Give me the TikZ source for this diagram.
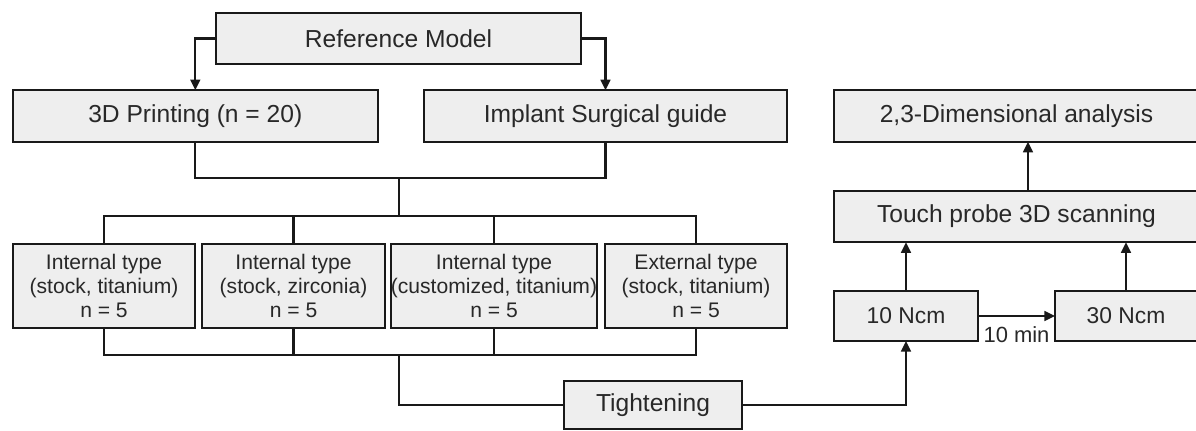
\documentclass[tikz,border=0pt]{standalone}
\usepackage{fontspec}
\setmainfont{Liberation Sans}
\usetikzlibrary{arrows.meta}
\definecolor{boxfill}{RGB}{238,238,238}
\definecolor{inkgray}{RGB}{40,40,40}

\begin{document}
\begin{tikzpicture}[x=0.02cm, y=-0.02cm,
        every node/.style={text=inkgray, outer sep=0pt},
        box/.style={draw=black!90, line width=1.4pt, fill=boxfill, minimum height=1.03cm, inner sep=0pt, font=\fontsize{14}{16}\selectfont},
        typebox/.style={box, minimum height=1.68cm, align=center, font=\fontsize{12}{13.5}\selectfont},
        ncmbox/.style={box, minimum height=1.0cm, font=\fontsize{13}{15}\selectfont},
        link/.style={line width=1.35pt, draw=black!90},
        arrow/.style={link, -{Triangle[length=6pt,width=5.5pt]}}]
        \useasboundingbox (0,0) rectangle (1196,431);
        \clip (0,0) rectangle (1196,431);

        \node[box, minimum width=7.3cm](ref) at (398.5, 38.5) {Reference Model};
        \node[box, minimum width=7.3cm](print) at (195.3, 116) {3D Printing (n = 20)};
        \node[box, minimum width=7.26cm](guide) at (605.5, 116) {Implant Surgical guide};
        \node[box, minimum width=7.3cm](dim) at (1016.5, 116) {2,3-Dimensional analysis};
        \node[box, minimum width=7.3cm](touch) at (1016.5, 216.5) {Touch probe 3D scanning};

        \node[typebox, minimum width=3.64cm](int_ti) at (104, 286) {Internal type\\(stock, titanium)\\n = 5};
        \node[typebox, minimum width=3.66cm](int_zr) at (293.5, 286) {Internal type\\(stock, zirconia)\\n = 5};
        \node[typebox, minimum width=4.12cm](int_cu) at (494, 286) {Internal type\\(customized, titanium)\\n = 5};
        \node[typebox, minimum width=3.64cm](ext_ti) at (696, 286) {External type\\(stock, titanium)\\n = 5};

        \node[box, minimum width=3.56cm, minimum height=0.96cm](tight) at (653, 405) {Tightening};
        \node[ncmbox, minimum width=2.88cm](ncm10) at (906, 316) {10 Ncm};
        \node[ncmbox, minimum width=2.84cm](ncm30) at (1126, 316) {30 Ncm};

        \coordinate (join_top) at (399, 178);
        \coordinate (split_top) at (399, 216);
        \coordinate (join_bot) at (399, 355);

        % model to the two branches
        \draw[arrow] (ref.west) -| (print.north);
        \draw[arrow] (ref.east) -| (guide.north);
        \draw[link] (print.south) |- (join_top) -| (guide.south);
        \draw[link] (join_top) -- (split_top);

        % abutment groups
        \draw[link] (int_ti.north) |- (split_top) -| (ext_ti.north);
        \draw[link] (int_zr.north) -- (int_zr.north |- split_top) (int_cu.north) -- (int_cu.north |- split_top);
        \draw[link] (int_ti.south) |- (join_bot) -| (ext_ti.south);
        \draw[link] (int_zr.south) -- (int_zr.south |- join_bot) (int_cu.south) -- (int_cu.south |- join_bot);
        \draw[link] (join_bot) |- (tight.west);

        % torque and scanning
        \draw[arrow] (tight.east) -| (ncm10.south);
        \draw[arrow] (ncm10.east) -- (ncm30.west) node[midway, below=6pt, inner sep=0pt, font=\fontsize{12.5}{14}\selectfont] {10 min};
        \draw[arrow] (ncm10.north) -- (ncm10.north |- touch.south);
        \draw[arrow] (ncm30.north) -- (ncm30.north |- touch.south);
        \draw[arrow] ([xshift=0.23cm]touch.north) -- ([xshift=0.23cm]dim.south);
    \end{tikzpicture}
\end{document}
